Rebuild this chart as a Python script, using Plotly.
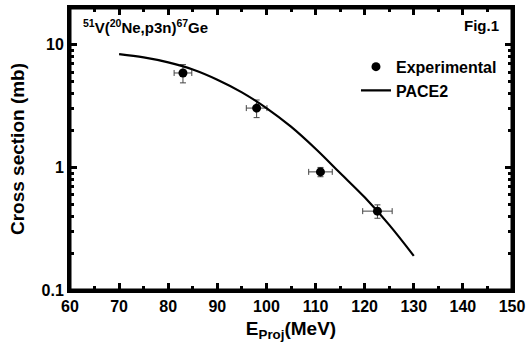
import plotly.graph_objects as go

# Experimental data
exp_e = [83.0, 98.0, 111.0, 122.6]
exp_sigma = [5.9, 3.05, 0.92, 0.44]
exp_sigma_err = [1.0, 0.5, 0.08, 0.055]
exp_e_err = [1.8, 2.1, 2.4, 3.0]

# PACE2 calculation
pace_e = [70, 75, 80, 85, 90, 95, 100, 105, 110, 115, 120, 125, 130]
pace_sigma = [8.4, 7.9, 7.2, 6.3, 5.2, 4.1, 3.05, 2.15, 1.42, 0.90, 0.57, 0.34, 0.19]

x_ticks = [60, 70, 80, 90, 100, 110, 120, 130, 140, 150]
y_ticks = [0.1, 1, 10]
y_ticktext = ["0.1", "1", "10"]
y_minor = [m * d for d in [0.1, 1, 10] for m in range(2, 10) if m * d <= 20]

FONT = "Liberation Sans, Arial, sans-serif"

fig = go.Figure()
fig.add_trace(go.Scatter(
    x=exp_e, y=exp_sigma, mode="markers", name="<b>Experimental</b>",
    marker=dict(color="black", size=9, symbol="circle"),
    error_y=dict(type="data", array=exp_sigma_err, color="#444", thickness=1, width=3),
    error_x=dict(type="data", array=exp_e_err, color="#444", thickness=1, width=3),
))
fig.add_trace(go.Scatter(
    x=pace_e, y=pace_sigma, mode="lines", name="<b>PACE2</b>",
    line=dict(color="black", width=2.2, shape="spline", smoothing=1.0),
))

axis_common = dict(
    ticks="inside", ticklen=7, tickwidth=2.5, tickcolor="black",
    showline=True, linewidth=3, linecolor="black", mirror="allticks",
    showgrid=False, zeroline=False, automargin=False,
    tickfont=dict(size=16, family=FONT, color="black"),
)

fig.update_layout(
    width=530, height=356,
    margin=dict(l=70, r=18, t=8, b=66),
    plot_bgcolor="white", paper_bgcolor="white",
    font=dict(family=FONT, color="black", size=15),
    showlegend=True,
    legend=dict(x=0.647, y=0.852, xanchor="left", yanchor="top",
                bgcolor="rgba(0,0,0,0)", font=dict(size=16, family=FONT),
                tracegroupgap=0),
    xaxis=dict(
        range=[60, 150], tickmode="array", tickvals=x_ticks, ticktext=[f"<b>{v}</b>" for v in x_ticks],
        minor=dict(ticks="inside", ticklen=4, tickwidth=2.5, tickcolor="black", dtick=5, showgrid=False),
        title=dict(text="<b>E<sub>Proj</sub>(MeV)</b>", font=dict(size=19, family=FONT), standoff=8),
        **axis_common,
    ),
    yaxis=dict(
        type="log", range=[-1, 1.301], tickmode="array", tickvals=y_ticks,
        ticktext=[f"<b>{t}</b>" for t in y_ticktext],
        minor=dict(ticks="inside", ticklen=4, tickwidth=2.5, tickcolor="black",
                   tickmode="array", tickvals=y_minor, showgrid=False),
        title=dict(text="<b>Cross section (mb)</b>", font=dict(size=19, family=FONT), standoff=12),
        **axis_common,
    ),
    shapes=[dict(type="rect", xref="paper", yref="paper", x0=0, x1=1, y0=0, y1=1,
                 line=dict(color="black", width=3), layer="above")],
    annotations=[
        dict(text="<b><sup>51</sup>V(<sup>20</sup>Ne,p3n)<sup>67</sup>Ge</b>", x=0.025, y=0.975,
             xref="paper", yref="paper", xanchor="left", yanchor="top", showarrow=False,
             font=dict(size=15, family=FONT)),
        dict(text="<b>Fig.1</b>", x=0.975, y=0.975, xref="paper", yref="paper",
             xanchor="right", yanchor="top", showarrow=False,
             font=dict(size=15, family=FONT)),
    ],
)

fig.write_html("out.html", config={"displayModeBar": False},
               post_script="document.body.style.margin='0';document.body.style.overflow='hidden';")
